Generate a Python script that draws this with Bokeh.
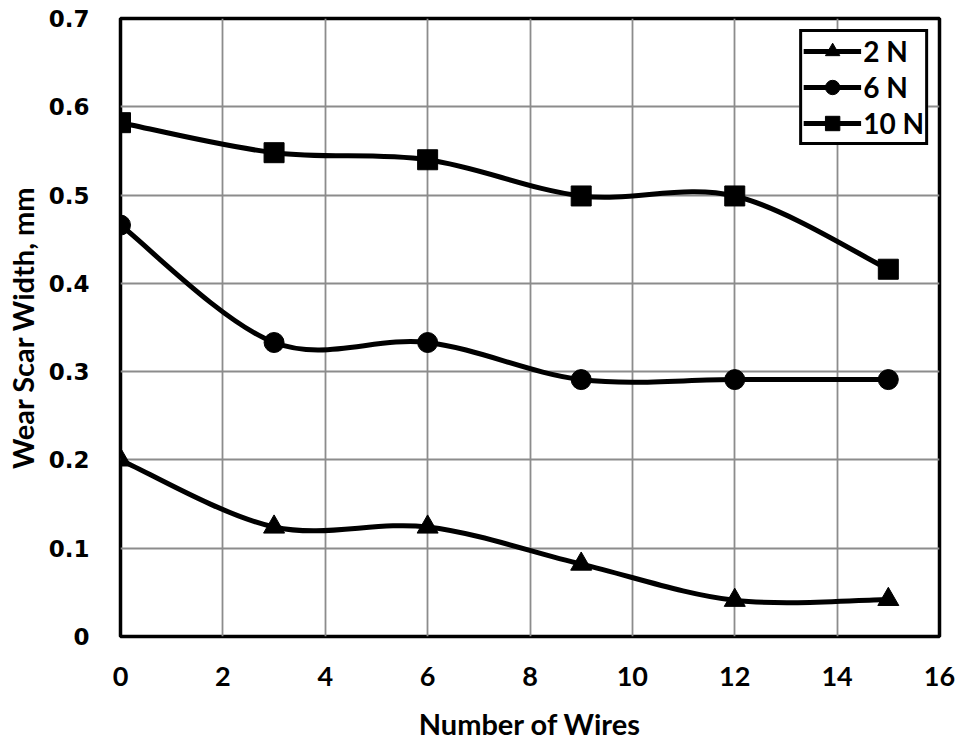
from bokeh.plotting import figure
from bokeh.models import ColumnDataSource, Legend, LegendItem, FixedTicker, Range1d
from bokeh.embed import file_html
from bokeh.resources import INLINE

# ---- data ----
wires = [0, 3, 6, 9, 12, 15]
load_2N = [0.200, 0.124, 0.124, 0.082, 0.041, 0.042]
load_6N = [0.466, 0.333, 0.333, 0.291, 0.291, 0.291]
load_10N = [0.582, 0.548, 0.540, 0.499, 0.499, 0.416]
series_labels = ["2 N", "6 N", "10 N"]
series_markers = ["triangle", "circle", "square"]
x_ticks = [0, 2, 4, 6, 8, 10, 12, 14, 16]
y_ticks = [0, 0.1, 0.2, 0.3, 0.4, 0.5, 0.6, 0.7]
y_tick_labels = ["0", "0.1", "0.2", "0.3", "0.4", "0.5", "0.6", "0.7"]


def smooth_segments(xs, ys):
    """Bezier control points (Catmull-Rom style, as in spreadsheet smoothed lines)."""
    n = len(xs)
    seg = dict(x0=[], y0=[], x1=[], y1=[], cx0=[], cy0=[], cx1=[], cy1=[])
    for i in range(n - 1):
        p0 = i - 1 if i > 0 else i
        p3 = i + 2 if i + 2 < n else i + 1
        seg["x0"].append(xs[i]); seg["y0"].append(ys[i])
        seg["x1"].append(xs[i + 1]); seg["y1"].append(ys[i + 1])
        seg["cx0"].append(xs[i] + (xs[i + 1] - xs[p0]) / 6)
        seg["cy0"].append(ys[i] + (ys[i + 1] - ys[p0]) / 6)
        seg["cx1"].append(xs[i + 1] - (xs[p3] - xs[i]) / 6)
        seg["cy1"].append(ys[i + 1] - (ys[p3] - ys[i]) / 6)
    return seg


p = figure(
    width=961, height=744,
    min_border_left=120, min_border_right=22, min_border_top=18, min_border_bottom=108,
    x_range=Range1d(0, 16), y_range=Range1d(0, 0.7),
    output_backend="svg", toolbar_location=None,
    background_fill_color="white", border_fill_color="white",
)

p.outline_line_color = "black"
p.outline_line_width = 3.5

p.xgrid.ticker = FixedTicker(ticks=x_ticks)
p.ygrid.ticker = FixedTicker(ticks=y_ticks)
for g in (p.xgrid, p.ygrid):
    g.grid_line_color = "#8c8c8c"
    g.grid_line_width = 1.8

p.xaxis.ticker = FixedTicker(ticks=x_ticks)
p.yaxis.ticker = FixedTicker(ticks=y_ticks)
p.yaxis.major_label_overrides = {t: l for t, l in zip(y_ticks, y_tick_labels)}

for ax in (p.xaxis, p.yaxis):
    ax.axis_line_color = None
    ax.major_tick_line_color = None
    ax.minor_tick_line_color = None
    ax.major_tick_out = 0
    ax.major_tick_in = 0
    ax.major_label_text_font_style = "bold"
    ax.major_label_text_color = "black"
    ax.axis_label_text_font = "Lato"
    ax.axis_label_text_font_style = "bold"
    ax.axis_label_text_font_size = "29px"
    ax.axis_label_text_color = "black"

p.xaxis.major_label_text_font = "Lato"
p.xaxis.major_label_text_font_size = "27px"
p.xaxis.major_label_standoff = 30
p.xaxis.axis_label = "Number of Wires"
p.xaxis.axis_label_standoff = 17

p.yaxis.major_label_text_font = "DejaVu Sans"
p.yaxis.major_label_text_font_size = "23px"
p.yaxis.major_label_standoff = 31
p.yaxis.axis_label = "Wear Scar Width, mm"
p.yaxis.axis_label_standoff = 6

items = []
for ys, lab, mk in zip([load_2N, load_6N, load_10N], series_labels, series_markers):
    seg = ColumnDataSource(smooth_segments(wires, ys))
    curve = p.bezier(x0="x0", y0="y0", x1="x1", y1="y1", cx0="cx0", cy0="cy0",
                     cx1="cx1", cy1="cy1", source=seg, line_color="black", line_width=5)
    msize = 21 if mk == "triangle" else 20
    pts = p.scatter(wires, ys, marker=mk, size=msize, fill_color="black", line_color="black")
    items.append(LegendItem(label=lab, renderers=[curve, pts]))

legend = Legend(items=items, location="top_right")
legend.margin = 11
legend.padding = 1
legend.spacing = 0
legend.glyph_width = 58
legend.glyph_height = 36
legend.label_height = 36
legend.label_standoff = 2
legend.label_text_font = "Lato"
legend.label_text_font_style = "bold"
legend.label_text_font_size = "28px"
legend.label_text_color = "black"
legend.border_line_color = "black"
legend.border_line_alpha = 1.0
legend.border_line_width = 3.5
legend.background_fill_color = "white"
legend.background_fill_alpha = 1.0
p.add_layout(legend)

open("out.html", "w").write(file_html(p, INLINE))
